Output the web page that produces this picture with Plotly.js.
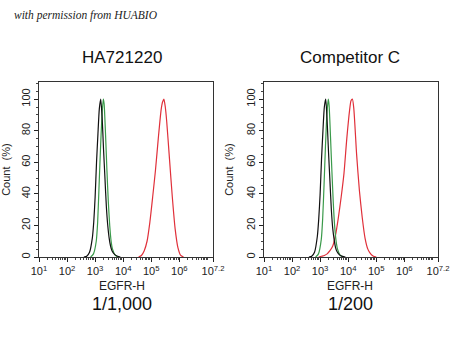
<!DOCTYPE html>
<html>
<head>
<meta charset="utf-8">
<script src="https://cdn.plot.ly/plotly-3.0.1.min.js"></script>
<style>html,body{margin:0;padding:0;background:#fff}#chart{width:450px;height:360px}</style>
</head>
<body>
<div id="chart"></div>
<script>
// Values: x as log10 exponent of EGFR-H intensity, y as Count (%)
const panelTitles = ["HA721220", "Competitor C"];
const dilutions = ["1/1,000", "1/200"];
const xTickExp = [1, 2, 3, 4, 5, 6, 7.2];
const xTickText = ["10<sup>1</sup>", "10<sup>2</sup>", "10<sup>3</sup>", "10<sup>4</sup>", "10<sup>5</sup>", "10<sup>6</sup>", "10<sup>7.2</sup>"];

const blackL_x = [2.60,2.70,2.80,2.90,2.95,3.00,3.05,3.10,3.15,3.20,3.25,3.30,3.35,3.40,3.45,3.50,3.55,3.60,3.70,3.80,3.90];
const blackL_y = [0,0.5,3,12,22,38,60,78,94,100,88,68,50,32,20,12,7,4,1.5,0.5,0];
const greenL_x = [2.84,2.94,3.04,3.09,3.14,3.19,3.24,3.29,3.32,3.37,3.42,3.47,3.52,3.57,3.62,3.72,3.82];
const greenL_y = [0,2,10,22,45,68,88,100,97,78,55,35,20,10,5,1,0];
const redL_x = [4.55,4.65,4.75,4.85,4.95,5.05,5.15,5.25,5.35,5.40,5.45,5.50,5.55,5.65,5.75,5.85,5.95,6.05,6.15];
const redL_y = [0,1,4,10,22,38,55,75,93,98,100,95,86,62,38,18,6,1,0];

const blackR_x = [2.60,2.70,2.80,2.90,2.95,3.00,3.05,3.10,3.15,3.20,3.25,3.30,3.35,3.40,3.45,3.50,3.55,3.60,3.70,3.80,3.90];
const blackR_y = [0,0.5,3,13,24,40,62,80,95,100,86,66,48,30,18,11,6,3.5,1.2,0.4,0];
const greenR_x = [2.84,2.94,3.04,3.09,3.14,3.19,3.24,3.29,3.32,3.37,3.42,3.47,3.52,3.57,3.62,3.72,3.82];
const greenR_y = [0,2,11,24,46,70,90,100,96,76,54,34,19,10,5,1,0];
const redR_x = [2.95,3.05,3.15,3.25,3.35,3.45,3.55,3.65,3.75,3.85,3.95,4.05,4.10,4.15,4.20,4.30,4.40,4.50,4.60,4.70,4.80,4.90,5.00];
const redR_y = [0,0.5,1,2,4,7,14,25,38,53,75,93,99,100,94,65,42,25,12,5,2,0.5,0];

const toVal = a => a.map(e => Math.pow(10, e));
const BLACK = "#111111", GREEN = "#3a9a4a", RED = "#e0303a";

function tr(x, y, color, xa, ya) {
  return {x: toVal(x), y: y, type: "scatter", mode: "lines", line: {color: color, width: 1.2, shape: "spline", smoothing: 0.6}, xaxis: xa, yaxis: ya, hoverinfo: "skip", showlegend: false};
}

const data = [
  tr(redL_x, redL_y, RED, "x", "y"),
  tr(greenL_x, greenL_y, GREEN, "x", "y"),
  tr(blackL_x, blackL_y, BLACK, "x", "y"),
  tr(redR_x, redR_y, RED, "x2", "y2"),
  tr(greenR_x, greenR_y, GREEN, "x2", "y2"),
  tr(blackR_x, blackR_y, BLACK, "x2", "y2")
];

const tickFont = {family: "Liberation Sans, Arial, sans-serif", size: 11, color: "#222"};
function xaxis(domain, anchor) {
  return {
    domain: domain, anchor: anchor, type: "log", range: [1, 7.2],
    tickvals: toVal(xTickExp), ticktext: xTickText, tickfont: tickFont,
    ticks: "outside", ticklen: 4, tickcolor: "#222", tickwidth: 1,
    minor: {ticks: "outside", ticklen: 2, tickcolor: "#444", dtick: "D1"},
    showline: true, linecolor: "#333", linewidth: 1, mirror: true,
    showgrid: false, zeroline: false, fixedrange: true
  };
}
function yaxis(anchor) {
  return {
    domain: [0.286, 0.772], anchor: anchor, range: [0, 110.8],
    tickvals: [0, 20, 40, 60, 80, 100], tickangle: -90, tickfont: tickFont,
    ticks: "outside", ticklen: 4, tickcolor: "#222",
    minor: {ticks: "outside", ticklen: 2, dtick: 5, tickcolor: "#444"},
    showline: true, linecolor: "#333", linewidth: 1, mirror: true,
    showgrid: false, zeroline: false, fixedrange: true,
    title: {text: "Count  (%)", font: {family: "Liberation Sans, Arial, sans-serif", size: 11, color: "#222"}, standoff: 8}
  };
}

const ann = [];
const centers = [0.27, 0.778];
for (let i = 0; i < 2; i++) {
  ann.push({text: panelTitles[i], x: centers[i], y: 1 - 58/360, xref: "paper", yref: "paper", showarrow: false, xanchor: "center", yanchor: "middle", font: {family: "Liberation Sans, Arial, sans-serif", size: 17, color: "#111"}});
  ann.push({text: "EGFR-H", x: centers[i], y: 1 - 286/360, xref: "paper", yref: "paper", showarrow: false, xanchor: "center", yanchor: "middle", font: {family: "Liberation Sans, Arial, sans-serif", size: 12, color: "#222"}});
  ann.push({text: dilutions[i], x: centers[i], y: 1 - 304/360, xref: "paper", yref: "paper", showarrow: false, xanchor: "center", yanchor: "middle", font: {family: "Liberation Sans, Arial, sans-serif", size: 18, color: "#111"}});
}
ann.push({text: "<i>with permission from HUABIO</i>", x: 12/450, y: 1 - 16/360, xref: "paper", yref: "paper", showarrow: false, xanchor: "left", yanchor: "middle", font: {family: "Liberation Serif, serif", size: 11.5, color: "#222"}});

const layout = {
  width: 450, height: 360, margin: {l: 0, r: 0, t: 0, b: 0},
  paper_bgcolor: "#fff", plot_bgcolor: "#fff",
  xaxis: xaxis([39/450, 213/450], "y"),
  yaxis: yaxis("x"),
  xaxis2: xaxis([264/450, 438/450], "y2"),
  yaxis2: yaxis("x2"),
  annotations: ann, showlegend: false
};

Plotly.newPlot("chart", data, layout, {staticPlot: true, displayModeBar: false});
</script>
</body>
</html>
